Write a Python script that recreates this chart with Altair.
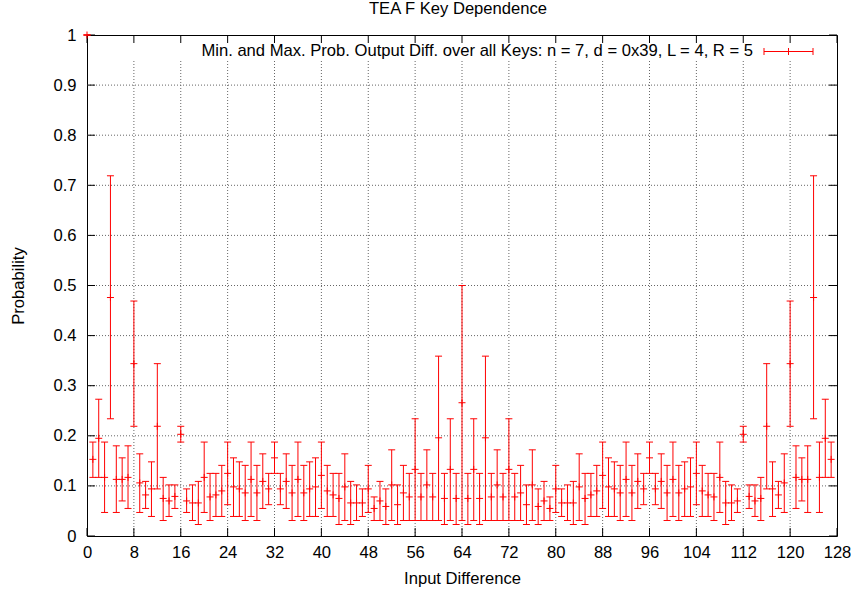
import altair as alt
import pandas as pd

FONT = "Liberation Sans"
FS = 16.6

# ---- data ----
input_diff = list(range(128))

p_min = [
    1.0, 0.117, 0.117, 0.047, 0.234, 0.047, 0.070, 0.055,
    0.219, 0.047, 0.055, 0.039, 0.094, 0.031, 0.039, 0.055,
    0.1875, 0.047, 0.031, 0.023, 0.047, 0.031, 0.039, 0.039,
    0.0625, 0.039, 0.039, 0.031, 0.039, 0.031, 0.055, 0.0625,
    0.125, 0.0625, 0.055, 0.031, 0.039, 0.031, 0.039, 0.039,
    0.055, 0.039, 0.039, 0.023, 0.031, 0.023, 0.031, 0.039,
    0.047, 0.031, 0.031, 0.023, 0.031, 0.023, 0.031, 0.031,
    0.031, 0.031, 0.031, 0.031, 0.031, 0.023, 0.031, 0.023,
    0.031, 0.023, 0.031, 0.023, 0.031, 0.031, 0.031, 0.031,
    0.031, 0.031, 0.031, 0.023, 0.031, 0.023, 0.031, 0.031,
    0.047, 0.039, 0.031, 0.023, 0.031, 0.023, 0.039, 0.039,
    0.055, 0.039, 0.039, 0.031, 0.039, 0.031, 0.055, 0.0625,
    0.125, 0.0625, 0.055, 0.031, 0.039, 0.031, 0.039, 0.039,
    0.0625, 0.039, 0.039, 0.031, 0.047, 0.023, 0.031, 0.047,
    0.1875, 0.055, 0.039, 0.031, 0.094, 0.039, 0.055, 0.047,
    0.219, 0.055, 0.070, 0.047, 0.234, 0.047, 0.117, 0.117,
]

p_mean = [
    1.0, 0.153, 0.195, 0.117, 0.476, 0.113, 0.113, 0.117,
    0.344, 0.106, 0.082, 0.094, 0.219, 0.075, 0.070, 0.079,
    0.203, 0.070, 0.066, 0.066, 0.117, 0.078, 0.082, 0.090,
    0.125, 0.098, 0.094, 0.086, 0.113, 0.086, 0.109, 0.094,
    0.156, 0.094, 0.109, 0.086, 0.113, 0.086, 0.094, 0.098,
    0.121, 0.090, 0.082, 0.075, 0.098, 0.066, 0.066, 0.066,
    0.094, 0.055, 0.070, 0.059, 0.102, 0.0625, 0.086, 0.078,
    0.133, 0.078, 0.102, 0.078, 0.196, 0.075, 0.133, 0.075,
    0.266, 0.075, 0.133, 0.075, 0.196, 0.078, 0.102, 0.078,
    0.133, 0.078, 0.086, 0.0625, 0.102, 0.059, 0.070, 0.055,
    0.094, 0.066, 0.066, 0.066, 0.098, 0.075, 0.082, 0.090,
    0.121, 0.098, 0.094, 0.086, 0.113, 0.086, 0.109, 0.094,
    0.156, 0.094, 0.109, 0.086, 0.113, 0.086, 0.094, 0.098,
    0.125, 0.090, 0.082, 0.078, 0.117, 0.066, 0.066, 0.070,
    0.203, 0.079, 0.070, 0.075, 0.219, 0.094, 0.082, 0.106,
    0.344, 0.117, 0.113, 0.113, 0.476, 0.117, 0.195, 0.153,
]

p_max = [
    1.0, 0.1875, 0.273, 0.1875, 0.719, 0.180, 0.156, 0.180,
    0.469, 0.164, 0.109, 0.148, 0.344, 0.117, 0.102, 0.102,
    0.219, 0.094, 0.102, 0.109, 0.1875, 0.125, 0.125, 0.141,
    0.1875, 0.156, 0.148, 0.141, 0.1875, 0.141, 0.164, 0.125,
    0.1875, 0.125, 0.164, 0.141, 0.1875, 0.141, 0.148, 0.156,
    0.1875, 0.141, 0.125, 0.125, 0.164, 0.109, 0.102, 0.094,
    0.141, 0.078, 0.109, 0.094, 0.172, 0.102, 0.141, 0.125,
    0.234, 0.125, 0.172, 0.125, 0.359, 0.125, 0.234, 0.125,
    0.500, 0.125, 0.234, 0.125, 0.359, 0.125, 0.172, 0.125,
    0.234, 0.125, 0.141, 0.102, 0.172, 0.094, 0.109, 0.078,
    0.141, 0.094, 0.102, 0.109, 0.164, 0.125, 0.125, 0.141,
    0.1875, 0.156, 0.148, 0.141, 0.1875, 0.141, 0.164, 0.125,
    0.1875, 0.125, 0.164, 0.141, 0.1875, 0.141, 0.148, 0.156,
    0.1875, 0.141, 0.125, 0.125, 0.1875, 0.109, 0.102, 0.094,
    0.219, 0.102, 0.102, 0.117, 0.344, 0.148, 0.109, 0.164,
    0.469, 0.180, 0.156, 0.180, 0.719, 0.1875, 0.273, 0.1875,
]

x_ticks = list(range(0, 129, 8))
y_ticks = [0, 0.1, 0.2, 0.3, 0.4, 0.5, 0.6, 0.7, 0.8, 0.9, 1.0]
x_grid = x_ticks[1:-1]
y_grid = y_ticks[1:-1]

legend_text = "Min. and Max. Prob. Output Diff. over all Keys: n = 7, d = 0x39, L = 4, R = 5"
title_text = "TEA F Key Dependence"
x_title = "Input Difference"
y_title = "Probability"

W, H = 750, 501
RED = "#ff0000"

df = pd.DataFrame({"diff": input_diff, "pmin": p_min, "pmean": p_mean, "pmax": p_max})
xt = pd.DataFrame({"diff": x_ticks})
yt = pd.DataFrame({"pmin": y_ticks})
xg = pd.DataFrame({"diff": x_grid})
yg = pd.DataFrame({"pmin": y_grid})

xs = alt.Scale(domain=[0, 128], nice=False, zero=False)
ys = alt.Scale(domain=[0, 1], nice=False, zero=False)

AX_STYLE = dict(labelFont=FONT, titleFont=FONT, labelFontSize=FS, titleFontSize=FS,
                labelColor="black", titleColor="black", titleFontWeight="normal",
                ticks=False, tickSize=0, grid=False, domain=False, labelFlush=False)

X_AXIS = alt.Axis(values=x_ticks, format="d", labelPadding=8,
                  title=x_title, titleX=W / 2, titleY=42, titleBaseline="middle",
                  titleAlign="center", **AX_STYLE)
Y_AXIS = alt.Axis(values=y_ticks, format="~g", labelPadding=11,
                  title=y_title, titleX=-69, titleY=H / 2, titleAngle=-90,
                  titleBaseline="middle", titleAlign="center", **AX_STYLE)


def X(field="diff"):
    return alt.X(f"{field}:Q", scale=xs, axis=X_AXIS)


def Y(field="pmin"):
    return alt.Y(f"{field}:Q", scale=ys, axis=Y_AXIS)


GRID = dict(color="#666666", strokeDash=[1, 2], strokeWidth=1)

# grid lines (vertical ones stop below the key, as in the reference)
vgrid = alt.Chart(xg).mark_rule(**GRID).encode(x=X(), y=alt.value(H), y2=alt.value(25))
hgrid = alt.Chart(yg).mark_rule(**GRID).encode(y=Y(), x=alt.value(0), x2=alt.value(W))

# inward tick marks on all four sides
TICK = dict(color="black", strokeWidth=1)
tb = alt.Chart(xt).mark_rule(**TICK).encode(x=X(), y=alt.value(H), y2=alt.value(H - 8))
tt = alt.Chart(xt).mark_rule(**TICK).encode(x=X(), y=alt.value(0), y2=alt.value(8))
tl = alt.Chart(yt).mark_rule(**TICK).encode(y=Y(), x=alt.value(0), x2=alt.value(8))
tr = alt.Chart(yt).mark_rule(**TICK).encode(y=Y(), x=alt.value(W), x2=alt.value(W - 8))

base = alt.Chart(df)
bars = base.mark_rule(color=RED, strokeWidth=1).encode(x=X(), y=Y("pmin"), y2="pmax:Q")
cap_lo = base.mark_tick(orient="horizontal", size=7, thickness=1, color=RED, opacity=1).encode(
    x=X(), y=Y("pmin"))
cap_hi = base.mark_tick(orient="horizontal", size=7, thickness=1, color=RED, opacity=1).encode(
    x=X(), y=Y("pmax"))
centre = base.mark_point(shape="M-1,0H1M0,-1V1", size=49, filled=False, color=RED,
                         strokeWidth=1, opacity=1).encode(x=X(), y=Y("pmean"))

# title (as a text mark so it can sit exactly where the reference has it)
title_df = pd.DataFrame({"label": [title_text]})
title_mark = alt.Chart(title_df).mark_text(
    align="center", baseline="middle", fontSize=FS, font=FONT, color="black"
).encode(text="label:N", x=alt.value(W / 2 - 4), y=alt.value(-26))

# key
key_df = pd.DataFrame({"label": [legend_text]})
key_text = alt.Chart(key_df).mark_text(
    align="right", baseline="middle", fontSize=FS, font=FONT, color="black"
).encode(text="label:N", x=alt.value(666), y=alt.value(16))
KEY = dict(color=RED, strokeWidth=1)
key_line = alt.Chart(key_df).mark_rule(**KEY).encode(
    x=alt.value(677), x2=alt.value(726), y=alt.value(16.5))
key_c1 = alt.Chart(key_df).mark_rule(**KEY).encode(
    x=alt.value(677), y=alt.value(13), y2=alt.value(20))
key_c2 = alt.Chart(key_df).mark_rule(**KEY).encode(
    x=alt.value(701.5), y=alt.value(13), y2=alt.value(20))
key_c3 = alt.Chart(key_df).mark_rule(**KEY).encode(
    x=alt.value(726), y=alt.value(13), y2=alt.value(20))

chart = alt.layer(
    vgrid, hgrid, tb, tt, tl, tr, bars, cap_lo, cap_hi, centre,
    title_mark, key_text, key_line, key_c1, key_c2, key_c3,
).properties(
    width=W, height=H,
    background="white",
    autosize=alt.AutoSizeParams(type="none"),
    padding={"left": 87, "top": 35, "right": 14, "bottom": 54},
).configure_view(
    stroke="black", strokeWidth=1, fill="white"
)

chart.save("out.html", embed_options={"renderer": "svg", "actions": False})
